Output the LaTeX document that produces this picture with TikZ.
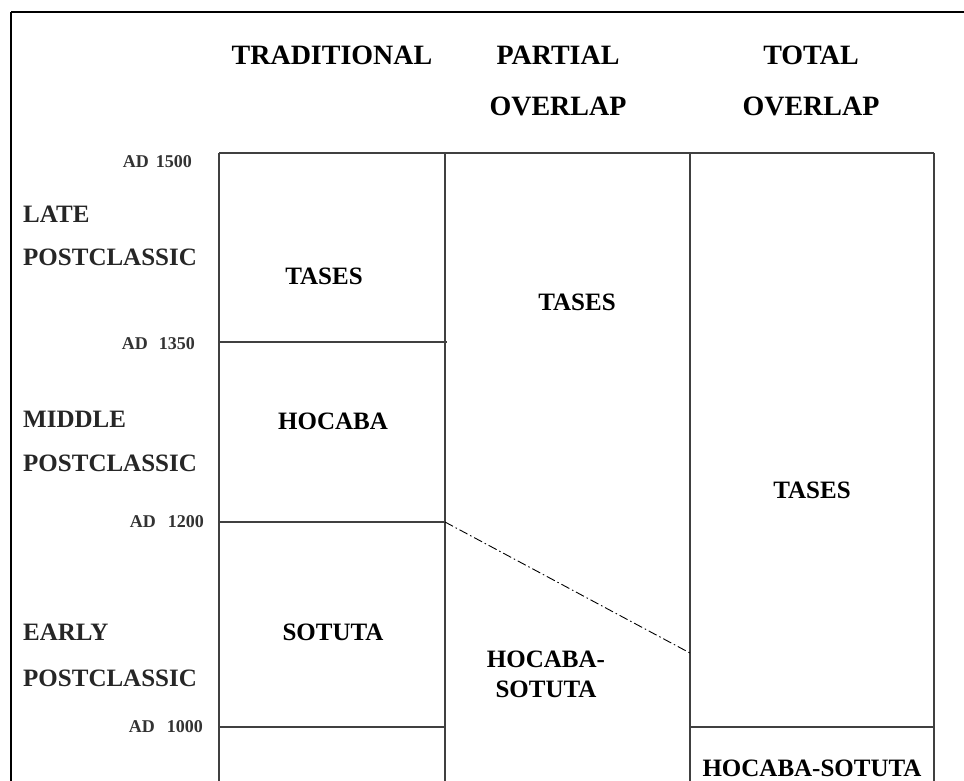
\documentclass[tikz,border=0pt]{standalone}
\usepackage{fontspec}
\setmainfont{Liberation Serif}
\begin{document}
\begin{tikzpicture}[x=1pt,y=-1pt,
  gridline/.style={draw=black!75,line width=1.3pt},
  frameline/.style={draw=black,line width=2.6pt},
  phaseline/.style={draw=black,line width=0.9pt,dash pattern=on 9pt off 3pt on 1.5pt off 3pt},
  head/.style={font=\bfseries\fontsize{28}{30}\selectfont,inner sep=0pt,anchor=base},
  period/.style={font=\bfseries\fontsize{25}{27}\selectfont,text=black!85,inner sep=0pt,anchor=base west},
  datelbl/.style={font=\bfseries\fontsize{18}{20}\selectfont,text=black!80,inner sep=0pt,anchor=base east},
  phase/.style={font=\bfseries\fontsize{25}{30}\selectfont,inner sep=0pt,anchor=base,align=center}]
\useasboundingbox (0,0) rectangle (964,780);
\clip (0,0) rectangle (964,780);
\fill[white] (0,0) rectangle (964,780);

% outer frame, running off the right and bottom edges
\draw[frameline] (11,12) -- (1000,12);
\draw[frameline] (11,12) -- (11,800);

% column corners
\coordinate (c0t) at (219,153);
\coordinate (c1t) at (445,153);
\coordinate (c2t) at (690,153);
\coordinate (c3t) at (934,153);
\coordinate (c0b) at (219,800);
\coordinate (c1b) at (445,800);
\coordinate (c2b) at (690,800);
\coordinate (c3b) at (934,800);

% boundaries of the traditional sequence
\coordinate (t1350a) at (219,342);
\coordinate (t1350b) at (447,342);
\coordinate (t1200a) at (219,522);
\coordinate (t1200b) at (445,522);
\coordinate (t1000a) at (219,727);
\coordinate (t1000b) at (445,727);
\coordinate (o1000a) at (690,727);
\coordinate (o1000b) at (934,727);
\coordinate (pend) at (690,653);

% grid
\draw[gridline] (c0t) -- (c3t);
\draw[gridline] (c0t) -- (c0b);
\draw[gridline] (c1t) -- (c1b);
\draw[gridline] (c2t) -- (c2b);
\draw[gridline] (c3t) -- (c3b);
\draw[gridline] (t1350a) -- (t1350b);
\draw[gridline] (t1200a) -- (t1200b);
\draw[gridline] (t1000a) -- (t1000b);
\draw[gridline] (o1000a) -- (o1000b);

% sloping boundary in the partial-overlap column
\draw[phaseline] (t1200b) -- (pend);

% column headings
\node[head] (hTrad) at (332,64) {TRADITIONAL};
\node[head] (hPart1) at (558,64) {PARTIAL};
\node[head] (hPart2) at (558,115) {OVERLAP};
\node[head] (hTot1) at (811,64) {TOTAL};
\node[head] (hTot2) at (811,115) {OVERLAP};

% dates
\node[datelbl] (d1500) at (192,167) {AD\hspace{7pt}1500};
\node[datelbl] (d1350) at (195,349) {AD\hspace{11pt}1350};
\node[datelbl] (d1200) at (204,527) {AD\hspace{12pt}1200};
\node[datelbl] (d1000) at (203,732) {AD\hspace{12pt}1000};

% periods
\node[period] (pLate1) at (23,222) {LATE};
\node[period] (pLate2) at (23,265) {POSTCLASSIC};
\node[period] (pMid1) at (23,427) {MIDDLE};
\node[period] (pMid2) at (23,471) {POSTCLASSIC};
\node[period] (pEarly1) at (23,640) {EARLY};
\node[period] (pEarly2) at (23,686) {POSTCLASSIC};

% phases
\node[phase] (trTases) at (324,284) {TASES};
\node[phase] (trHocaba) at (333,429) {HOCABA};
\node[phase] (trSotuta) at (333,640) {SOTUTA};
\node[phase] (paTases) at (577,310) {TASES};
\node[phase] (paHS1) at (546,667) {HOCABA-};
\node[phase] (paHS2) at (546,697) {SOTUTA};
\node[phase] (toTases) at (812,498) {TASES};
\node[phase] (toHS) at (812,776) {HOCABA-SOTUTA};
\end{tikzpicture}
\end{document}
